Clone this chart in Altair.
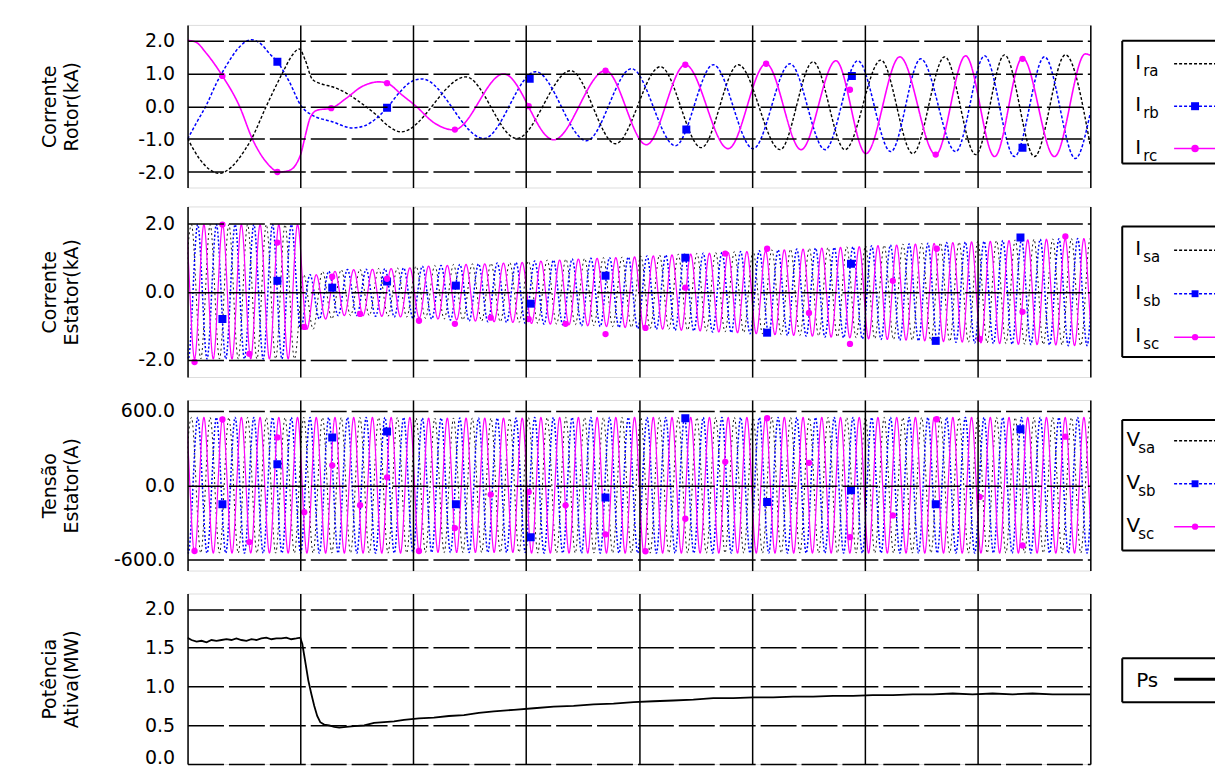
import altair as alt
import pandas as pd

FONT = "DejaVu Sans"
BLACK, BLUE, MAGENTA = "#000000", "#0000ff", "#ff00ff"

# ---------------- time axis (s) ----------------
x_grid = [0.0, 0.1, 0.2, 0.3, 0.4, 0.5, 0.6, 0.7, 0.8]

# ---------------- Panel 1: rotor currents (kA) ----------------
ira_t = [0.0, 0.0106, 0.0194, 0.0283, 0.0389, 0.0504, 0.0566, 0.0698, 0.0840, 0.0928, 0.0990,
         0.1043, 0.1105, 0.1185, 0.1282, 0.1406, 0.1520, 0.1671, 0.1786, 0.1892, 0.2466, 0.2917,
         0.3395, 0.3792, 0.4190, 0.4553, 0.4880, 0.5251, 0.5543, 0.5826, 0.6144, 0.6427, 0.6710,
         0.6984, 0.7240, 0.7505, 0.7779, 0.8000]
ira_v = [-0.98, -1.6, -1.92, -2.04, -1.85, -1.35, -1.0, 0.0, 1.0, 1.55, 1.74,
         1.4, 0.82, 0.68, 0.59, 0.4, 0.14, -0.26, -0.62, -0.78, 0.89, -0.98,
         1.08, -1.14, 1.2, -1.26, 1.26, -1.32, 1.35, -1.32, 1.4, -1.44, 1.5,
         -1.47, 1.56, -1.53, 1.56, -1.2]

irb_t = [0.0, 0.0088, 0.0168, 0.0256, 0.0345, 0.0460, 0.0566, 0.0654, 0.0725, 0.0796, 0.0902,
         0.1008, 0.1105, 0.1282, 0.1459, 0.1565, 0.1680, 0.1768, 0.1874, 0.1962, 0.2077, 0.2625,
         0.3085, 0.3536, 0.3934, 0.4323, 0.4659, 0.5012, 0.5339, 0.5649, 0.5940, 0.6232, 0.6497,
         0.6807, 0.7063, 0.7328, 0.7594, 0.7868, 0.8000]
irb_v = [-1.0, -0.45, 0.04, 0.7, 1.24, 1.8, 2.02, 1.88, 1.6, 1.35, 0.74,
         0.0, -0.27, -0.47, -0.66, -0.6, -0.35, -0.05, 0.4, 0.7, 0.83, -0.98,
         1.05, -1.05, 1.14, -1.2, 1.26, -1.29, 1.29, -1.32, 1.38, -1.38, 1.44,
         -1.38, 1.53, -1.53, 1.5, -1.59, -0.2]

irc_t = [0.0, 0.0071, 0.0168, 0.0309, 0.0460, 0.0575, 0.0698, 0.0813, 0.0902, 0.0964, 0.1008,
         0.1043, 0.1087, 0.1149, 0.1273, 0.1406, 0.1547, 0.1697, 0.1768, 0.1901, 0.2024, 0.2183,
         0.2360, 0.2802, 0.3244, 0.3704, 0.4066, 0.4411, 0.4791, 0.5127, 0.5437, 0.5746, 0.6011,
         0.6312, 0.6630, 0.6895, 0.7152, 0.7399, 0.7682, 0.7956, 0.8000]
irc_v = [2.0, 1.95, 1.6, 0.92, 0.0, -1.0, -1.7, -2.0, -1.95, -1.75, -1.4,
         -0.9, -0.35, -0.12, -0.06, 0.24, 0.6, 0.74, 0.7, 0.34, 0.0, -0.5,
         -0.72, 0.98, -1.02, 1.08, -1.17, 1.26, -1.29, 1.29, -1.32, 1.38, -1.44,
         1.5, -1.47, 1.53, -1.53, 1.47, -1.53, 1.59, 1.55]

irb_mark_t = [0.0796, 0.1768, 0.3032, 0.4420, 0.5887, 0.7399]
irb_mark_v = [1.35, -0.05, 0.83, -0.71, 0.92, -1.26]
irc_mark_t = [0.0309, 0.0796, 0.1273, 0.1768, 0.2369, 0.3023, 0.3704, 0.4411, 0.5127, 0.5870, 0.6630, 0.7399]
irc_mark_v = [0.92, -2.0, -0.06, 0.7, -0.71, 0.0, 1.08, 1.26, 1.29, 0.5, -1.47, 1.44]

# ---------------- Panels 2-3: stator waveforms ----------------
stator_period = 0.016592      # one cycle, read from the peak spacing
stator_t0 = 0.0062            # first trough of phase c
phase_peak = {"a": 0.833, "b": 0.167, "c": 0.5}   # peak position inside a cycle

# stator current envelope, one value per cycle (kA)
isx_pos = [1.97, 1.97, 1.97, 1.97, 1.97, 1.97,
           0.5, 0.6, 0.65, 0.66, 0.68, 0.7,
           0.75, 0.77, 0.8, 0.82, 0.84, 0.86,
           0.9, 0.93, 0.96, 0.98, 1.0, 1.02,
           1.05, 1.08, 1.1, 1.13, 1.15, 1.18,
           1.2, 1.23, 1.25, 1.28, 1.3, 1.32,
           1.35, 1.37, 1.4, 1.42, 1.44, 1.46,
           1.48, 1.5, 1.52, 1.54, 1.55, 1.56]
isx_neg = [-1.97, -1.97, -1.97, -1.97, -1.97, -1.97,
           -1.1, -0.8, -0.7, -0.7, -0.72, -0.74,
           -0.78, -0.8, -0.83, -0.86, -0.88, -0.9,
           -0.93, -0.95, -0.97, -1.0, -1.02, -1.05,
           -1.08, -1.1, -1.13, -1.15, -1.18, -1.2,
           -1.23, -1.26, -1.28, -1.3, -1.33, -1.35,
           -1.38, -1.4, -1.42, -1.44, -1.46, -1.48,
           -1.5, -1.52, -1.54, -1.55, -1.56, -1.58]
# stator voltage amplitude, one value per 0.1 s division (V)
vs_amp = [545, 545, 540, 545, 545, 545, 545, 545]

# markers shared by the stator panels
c_mark_t = [0.0062, 0.0309, 0.0548, 0.0796, 0.1034, 0.1282, 0.1529, 0.1768, 0.2051, 0.2369,
            0.2687, 0.3023, 0.3350, 0.3704, 0.4058, 0.4411, 0.4765, 0.5136, 0.5507, 0.5870,
            0.6250, 0.6639, 0.7019, 0.7399, 0.7779]
b_mark_t = [0.0309, 0.0796, 0.1282, 0.1768, 0.2378, 0.3041, 0.3704, 0.4411, 0.5136, 0.5879, 0.6630, 0.7381]
isc_mark_v = [-2.06, 1.97, -1.82, 1.44, -1.03, 0.44, -0.65, 0.38, -0.85, -0.94,
              -0.76, -0.8, -0.94, -1.24, -1.06, 0.12, 1.12, 1.26, -0.62, -1.53,
              0.32, 1.26, -1.38, -0.59, 1.62]
isb_mark_v = [-0.8, 0.32, 0.12, 0.3, 0.18, -0.35, 0.47, 1.0, -1.2, 0.82, -1.44, 1.59]
vsc_mark_v = [-528, 528, -456, 384, -216, 160, -160, 64, -528, -344,
              -75, -54, -161, -395, -530, -269, 188, 538, 180, -417,
              -242, 530, -94, -484, 390]
vsb_mark_v = [-152, 168, 384, 432, -152, -417, -99, 538, -134, -40, -153, 449]

# ---------------- Panel 4: active power (MW) ----------------
ps_t = [0.0, 0.0035, 0.0080, 0.0124, 0.0168, 0.0212, 0.0256, 0.0301, 0.0345, 0.0389, 0.0433,
        0.0477, 0.0522, 0.0566, 0.0610, 0.0654, 0.0698, 0.0743, 0.0787, 0.0831, 0.0875, 0.0919,
        0.0964, 0.0999, 0.1017, 0.1034, 0.1052, 0.1070, 0.1096, 0.1123, 0.1149, 0.1176, 0.1211,
        0.1255, 0.1300, 0.1344, 0.1406, 0.1476, 0.1565, 0.1653, 0.1741, 0.1830, 0.1918, 0.2051,
        0.2183, 0.2316, 0.2449, 0.2581, 0.2714, 0.2891, 0.3068, 0.3245, 0.3421, 0.3598, 0.3775,
        0.3952, 0.4129, 0.4305, 0.4482, 0.4659, 0.4836, 0.5013, 0.5189, 0.5366, 0.5543, 0.5720,
        0.5897, 0.6073, 0.6250, 0.6427, 0.6604, 0.6781, 0.6957, 0.7134, 0.7311, 0.7488, 0.7665,
        0.7841, 0.8000]
ps_v = [1.63, 1.6, 1.58, 1.59, 1.57, 1.6, 1.59, 1.6, 1.61, 1.6, 1.62,
        1.6, 1.59, 1.61, 1.6, 1.62, 1.63, 1.61, 1.62, 1.62, 1.63, 1.61,
        1.62, 1.63, 1.55, 1.4, 1.24, 1.08, 0.91, 0.75, 0.62, 0.54, 0.51,
        0.5, 0.48, 0.47, 0.48, 0.49, 0.5, 0.53, 0.54, 0.55, 0.57, 0.59,
        0.6, 0.62, 0.63, 0.66, 0.68, 0.7, 0.72, 0.74, 0.75, 0.77, 0.78,
        0.8, 0.81, 0.82, 0.83, 0.85, 0.85, 0.86, 0.86, 0.87, 0.87, 0.88,
        0.88, 0.89, 0.89, 0.9, 0.9, 0.91, 0.9, 0.91, 0.9, 0.91, 0.9,
        0.9, 0.9]


def stator_current(phase):
    rows = []
    j = -3
    while True:
        t = stator_t0 + (phase_peak[phase] + j / 2) * stator_period
        if t > 0.83:
            break
        k = min(max(int(t // stator_period), 0), len(isx_pos) - 1)
        rows.append({"t": t, "v": isx_pos[k] if j % 2 == 0 else isx_neg[k]})
        j += 1
    return pd.DataFrame(rows)


def stator_voltage(phase):
    rows = []
    j = -3
    while True:
        t = stator_t0 + (phase_peak[phase] + j / 2) * stator_period
        if t > 0.83:
            break
        k = min(max(int(t // 0.1), 0), len(vs_amp) - 1)
        rows.append({"t": t, "v": vs_amp[k] if j % 2 == 0 else -vs_amp[k]})
        j += 1
    return pd.DataFrame(rows)


PLOT_W = 905
LEG_W = 94
LABEL_EXPR = "replace(format(datum.value, '.1f'), '\u2212', '-')"


def xenc():
    return alt.X("t:Q", scale=alt.Scale(domain=[0, 0.8], nice=False, zero=False),
                 axis=alt.Axis(values=x_grid, labels=False, ticks=False, domain=False, title=None,
                               grid=True, gridColor="black", gridWidth=1.5, zindex=1))


def yenc(domain, values, title, h, label_offset=0):
    extra = {}
    if label_offset:
        extra["labelOffset"] = {"condition": {"test": "datum.value == 0", "value": label_offset}, "value": 0}
    return alt.Y("v:Q", scale=alt.Scale(domain=domain, nice=False, zero=False),
                 axis=alt.Axis(values=values, labelExpr=LABEL_EXPR, ticks=False, domain=False,
                               grid=True, gridColor="black", gridWidth=1.5, gridDash=[36, 5],
                               labelFont=FONT, labelFontSize=19, labelColor="black", labelPadding=13,
                               title=title, titleFont=FONT, titleFontSize=19, titleFontWeight="normal",
                               titleColor="black", titleAngle=270, titleX=-138, titleY=h / 2,
                               titleAlign="center", titleBaseline="middle", titleLineHeight=22,
                               zindex=1, **extra))


def wave_panel(series, marks, domain, values, title, h):
    layers = []
    first = True
    for df, color, dash, width in series:
        y = yenc(domain, values, title, h) if first else alt.Y("v:Q")
        first = False
        layers.append(alt.Chart(df).mark_line(color=color, strokeDash=dash, strokeWidth=width,
                                              interpolate="monotone", clip=True)
                      .encode(x=xenc(), y=y))
    for df, color, shape, size in marks:
        layers.append(alt.Chart(df).mark_point(filled=True, color=color, shape=shape, size=size,
                                               opacity=1, clip=True)
                      .encode(x="t:Q", y="v:Q"))
    return alt.layer(*layers).properties(width=PLOT_W, height=h)


def open_box(box_top, box_bottom):
    d = pd.DataFrame({"k": [0]})
    top = alt.Chart(d).mark_rule(color="black", strokeWidth=2).encode(
        x=alt.value(1), x2=alt.value(LEG_W), y=alt.value(box_top))
    bottom = alt.Chart(d).mark_rule(color="black", strokeWidth=2).encode(
        x=alt.value(1), x2=alt.value(LEG_W), y=alt.value(box_bottom))
    left = alt.Chart(d).mark_rule(color="black", strokeWidth=2).encode(
        x=alt.value(1), y=alt.value(box_top), y2=alt.value(box_bottom))
    return [top, bottom, left]


def legend3(main, subs, colors, dashes, h, box_top, box_bottom, y_first, y_last, main_x):
    df = pd.DataFrame({"main": [main] * len(subs), "sub": subs})
    ysc = alt.Y("sub:N", scale=alt.Scale(type="point", domain=subs, range=[y_first, y_last], padding=0),
                axis=None)
    big = alt.Chart(df).mark_text(font=FONT, fontSize=20, align="center", baseline="middle", dy=-1,
                                  color="black").encode(x=alt.value(main_x), y=ysc, text="main:N")
    small = alt.Chart(df).mark_text(font=FONT, fontSize=15, align="left", baseline="middle", dy=7,
                                    color="black").encode(x=alt.value(main_x + 5), y=ysc, text="sub:N")
    rule = alt.Chart(df).mark_rule(strokeWidth=1.5).encode(
        x=alt.value(53), x2=alt.value(LEG_W), y=ysc,
        color=alt.Color("sub:N", scale=alt.Scale(domain=subs, range=colors), legend=None),
        strokeDash=alt.StrokeDash("sub:N", scale=alt.Scale(domain=subs, range=dashes), legend=None))
    pts = alt.Chart(df).transform_filter(alt.datum.sub != subs[0]).mark_point(filled=True, opacity=1).encode(
        x=alt.value(74), y=ysc,
        color=alt.Color("sub:N", scale=alt.Scale(domain=subs, range=colors), legend=None),
        shape=alt.Shape("sub:N", scale=alt.Scale(domain=subs[1:], range=["square", "circle"]), legend=None),
        size=alt.Size("sub:N", scale=alt.Scale(domain=subs[1:], range=[64, 40]), legend=None))
    return alt.layer(*open_box(box_top, box_bottom), rule, pts, big, small).properties(
        width=LEG_W, height=h, view=alt.ViewBackground(stroke="transparent"))


DASH_A, DASH_B, DASH_C = [3, 2], [3, 2], [1, 0]
COLORS = [BLACK, BLUE, MAGENTA]

# Panel 1
H1 = 163
p1 = wave_panel(
    [(pd.DataFrame({"t": ira_t, "v": ira_v}), BLACK, DASH_A, 1.4),
     (pd.DataFrame({"t": irb_t, "v": irb_v}), BLUE, DASH_B, 1.5),
     (pd.DataFrame({"t": irc_t, "v": irc_v}), MAGENTA, DASH_C, 1.6)],
    [(pd.DataFrame({"t": irb_mark_t, "v": irb_mark_v}), BLUE, "square", 64),
     (pd.DataFrame({"t": irc_mark_t, "v": irc_mark_v}), MAGENTA, "circle", 40)],
    [-2.47, 2.47], [-2, -1, 0, 1, 2], ["Corrente", "Rotor(kA)"], H1)
l1 = legend3("I", ["ra", "rb", "rc"], COLORS, [DASH_A, DASH_B, DASH_C], H1, 16, 139, 39, 124, 17)

# Panel 2
H2 = 171
p2 = wave_panel(
    [(stator_current("a"), BLACK, [2, 3], 0.9),
     (stator_current("b"), BLUE, [2, 2], 1.5),
     (stator_current("c"), MAGENTA, DASH_C, 1.2)],
    [(pd.DataFrame({"t": b_mark_t, "v": isb_mark_v}), BLUE, "square", 64),
     (pd.DataFrame({"t": c_mark_t, "v": isc_mark_v}), MAGENTA, "circle", 40)],
    [-2.5, 2.5], [-2, 0, 2], ["Corrente", "Estator(kA)"], H2)
l2 = legend3("I", ["sa", "sb", "sc"], COLORS, [DASH_A, DASH_B, DASH_C], H2, 20, 151, 44, 131, 17)

# Panel 3
H3 = 171
p3 = wave_panel(
    [(stator_voltage("a"), BLACK, [2, 3], 0.9),
     (stator_voltage("b"), BLUE, [2, 2], 1.5),
     (stator_voltage("c"), MAGENTA, DASH_C, 1.2)],
    [(pd.DataFrame({"t": b_mark_t, "v": vsb_mark_v}), BLUE, "square", 64),
     (pd.DataFrame({"t": c_mark_t, "v": vsc_mark_v}), MAGENTA, "circle", 40)],
    [-685, 685], [-600, 0, 600], ["Tensão", "Estator(A)"], H3)
l3 = legend3("V", ["sa", "sb", "sc"], COLORS, [DASH_A, DASH_B, DASH_C], H3, 20, 151, 41, 127, 12)

# Panel 4
H4 = 171
p4 = alt.Chart(pd.DataFrame({"t": ps_t, "v": ps_v})).mark_line(color="black", strokeWidth=1.8, clip=True).encode(
    x=xenc(), y=yenc([0, 2.2], [0, 0.5, 1.0, 1.5, 2.0], ["Potência", "Ativa(MW)"], H4, label_offset=-7)
).properties(width=PLOT_W, height=H4)
ps_leg_df = pd.DataFrame({"name": ["Ps"]})
l4 = alt.layer(
    *open_box(65, 109),
    alt.Chart(ps_leg_df).mark_rule(color="black", strokeWidth=3).encode(
        x=alt.value(53), x2=alt.value(LEG_W), y=alt.value(86)),
    alt.Chart(ps_leg_df).mark_text(font=FONT, fontSize=20, align="left", baseline="middle", color="black").encode(
        x=alt.value(15), y=alt.value(88), text="name:N"),
).properties(width=LEG_W, height=H4, view=alt.ViewBackground(stroke="transparent"))

rows = [alt.hconcat(p, l, spacing=29) for p, l in [(p1, l1), (p2, l2), (p3, l3), (p4, l4)]]
lower = alt.vconcat(rows[1], rows[2], rows[3], spacing=21)
chart = alt.vconcat(rows[0], lower, spacing=17).properties(
    padding={"left": 32, "top": 15, "right": 0, "bottom": 0}
).configure_view(stroke="black", strokeWidth=2).configure(font=FONT)

chart.save("out.html", embed_options={"renderer": "svg", "actions": False})
